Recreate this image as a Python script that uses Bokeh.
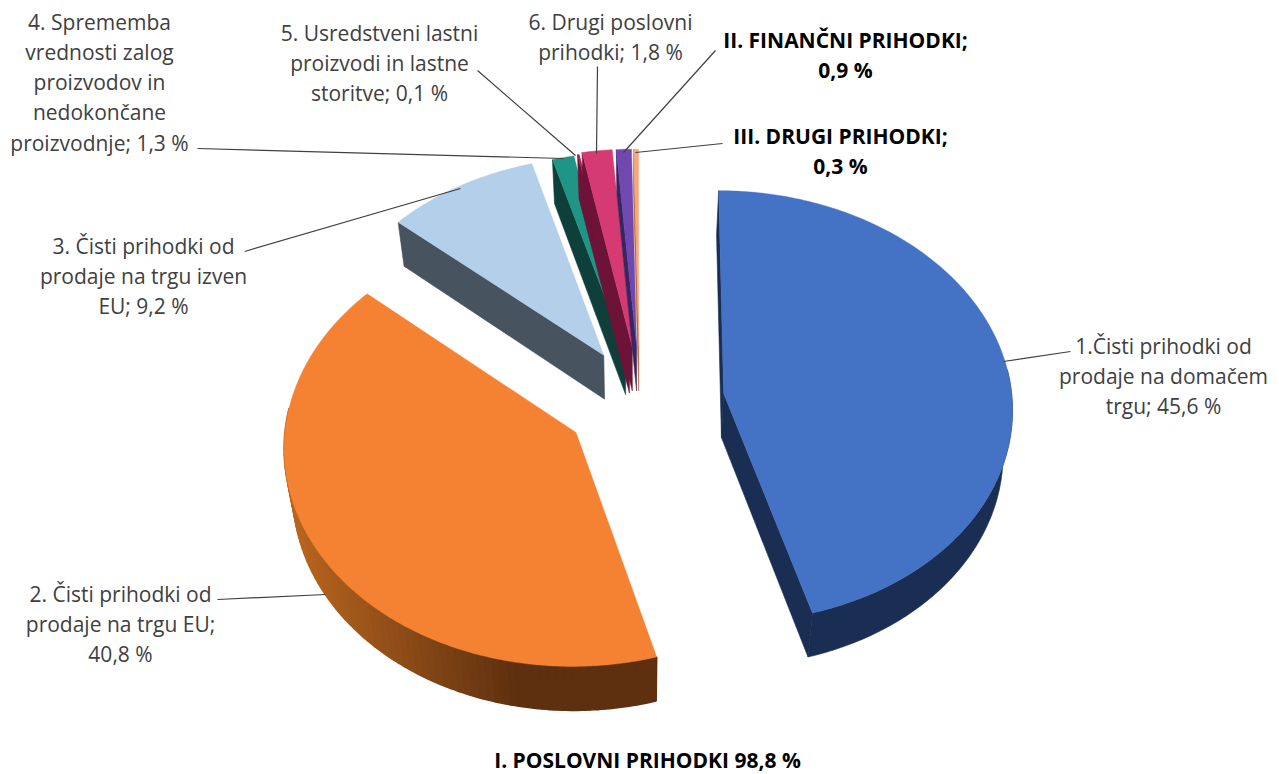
import math
from bokeh.plotting import figure
from bokeh.core.properties import value
from bokeh.embed import file_html
from bokeh.resources import INLINE

categories = ["1.Čisti prihodki od prodaje na domačem trgu",
              "2. Čisti prihodki od prodaje na trgu EU",
              "3. Čisti prihodki od prodaje na trgu izven EU",
              "4. Sprememba vrednosti zalog proizvodov in nedokončane proizvodnje",
              "5. Usredstveni lastni proizvodi in lastne storitve",
              "6. Drugi poslovni prihodki",
              "II. FINANČNI PRIHODKI",
              "III. DRUGI PRIHODKI"]
values = [45.6, 40.8, 9.2, 1.3, 0.1, 1.8, 0.9, 0.3]

# label lines as they wrap in the chart
label_lines = [
    ["1.Čisti prihodki od", "prodaje na domačem", "trgu; 45,6 %"],
    ["2. Čisti prihodki od", "prodaje na trgu EU;", "40,8 %"],
    ["3. Čisti prihodki od", "prodaje na trgu izven", "EU; 9,2 %"],
    ["4. Sprememba", "vrednosti zalog", "proizvodov in", "nedokončane", "proizvodnje; 1,3 %"],
    ["5. Usredstveni lastni", "proizvodi in lastne", "storitve; 0,1 %"],
    ["6. Drugi poslovni", "prihodki; 1,8 %"],
    ["II. FINANČNI PRIHODKI;", "0,9 %"],
    ["III. DRUGI PRIHODKI;", "0,3 %"],
]
summary_label = "I. POSLOVNI PRIHODKI 98,8 %"

top_colors = ["#4472C4", "#F58233", "#B4CFEA", "#1F9685", "#A81E52", "#D63A72", "#7048AF", "#F9A67E"]
face_colors = ["#1A2E54", "#5E300F", "#47535E", "#0E3F3A", "#6E1338", "#6E1338", "#3A2561", "#B5652F"]

# layout of the 3D projection
CX, CY, RX, RY, PERSP, DEPTH, SHRINK = 635, 393, 288, 215, 0.06, 44, 0.975
explode = [0.306, 0.272, 0.212, 0.205, 0.21, 0.22, 0.22, 0.22]
explode_dir = [90, 228.7, 328.3, 350, 354, 357, 361, 363]

def proj(X, Z):
    s = 1 / (1 + PERSP * Z)
    return CX + RX * X * s, CY - RY * Z * s

def low(pt):
    return CX + (pt[0] - CX) * SHRINK, pt[1] + DEPTH

def mix(a, b, f):
    ca = [int(a[i:i + 2], 16) for i in (1, 3, 5)]
    cb = [int(b[i:i + 2], 16) for i in (1, 3, 5)]
    return "#%02X%02X%02X" % tuple(round(x + (y - x) * f) for x, y in zip(ca, cb))

W, H = 1275, 774
p = figure(width=W, height=H, x_range=(0, W), y_range=(H, 0),
           toolbar_location=None, output_backend="svg", min_border=0)
p.axis.visible = False
p.grid.visible = False
p.outline_line_color = None
p.background_fill_color = "#FFFFFF"

def poly(pts, color, lw=0.6):
    p.patch([q[0] for q in pts], [q[1] for q in pts], fill_color=color, line_color=color, line_width=lw)

t0 = 0.0
for i, v in enumerate(values):
    t1 = t0 + v * 3.6
    d = math.radians(explode_dir[i])
    ex, ez = explode[i] * math.sin(d), explode[i] * math.cos(d)
    n = max(2, int((t1 - t0) / 0.75))
    angs = [math.radians(t0 + (t1 - t0) * k / n) for k in range(n + 1)]
    rim = [proj(ex + math.sin(a), ez + math.cos(a)) for a in angs]
    apex = proj(ex, ez)
    # cut faces, only those that turn towards the viewer
    if math.sin(angs[0]) <= 1e-9:
        poly([apex, rim[0], low(rim[0]), low(apex)], face_colors[i])
    if math.sin(angs[-1]) > 0:
        poly([apex, rim[-1], low(rim[-1]), low(apex)], face_colors[i])
    # outer wall, near side only
    near = [k for k in range(n + 1) if math.cos(angs[k]) < 0.12]
    if near:
        if i == 1:
            # shaded bands, drawn from the far end so that each overlaps the next
            step = 2
            for k in range(near[-1], near[0], -step):
                j = max(near[0], k - step)
                f = min(1, max(0, (520 - rim[j][0]) / 225))
                seg = rim[j:k + 1]
                poly(seg + [low(q) for q in reversed(seg)], mix("#5E300F", "#B8651F", f), 1.5)
        else:
            seg = [rim[k] for k in near]
            poly(seg + [low(q) for q in reversed(seg)], face_colors[i])
    poly([apex] + rim, top_colors[i], 0.4)
    t0 = t1

leader_x = [[1003, 1070], [217, 325], [244, 460], [197, 563], [477, 575], [597, 596], [715, 623], [722, 635]]
leader_y = [[361, 351], [599, 594], [251, 188], [148, 158], [70, 155], [66, 153], [50, 152], [143, 152]]
p.multi_line(leader_x, leader_y, line_color="#404040", line_width=1.2)

label_x = [1163, 120, 143, 99, 379, 610, 845, 840]
label_y0 = [345, 593, 245, 21, 32, 21, 39, 135]
for i, lines in enumerate(label_lines):
    bold = i >= 6
    p.text([label_x[i]] * len(lines), [label_y0[i] + k * 30.3 for k in range(len(lines))], text=lines,
           text_font=value("Open Sans"), text_font_size="21px",
           text_font_style="bold" if bold else "normal",
           text_color="#000000" if bold else "#404040",
           text_align="center", text_baseline="middle")
p.text([647], [759], text=[summary_label], text_font=value("Open Sans"), text_font_size="21px",
       text_font_style="bold", text_color="#000000", text_align="center", text_baseline="middle")

open("out.html", "w").write(file_html(p, INLINE))
